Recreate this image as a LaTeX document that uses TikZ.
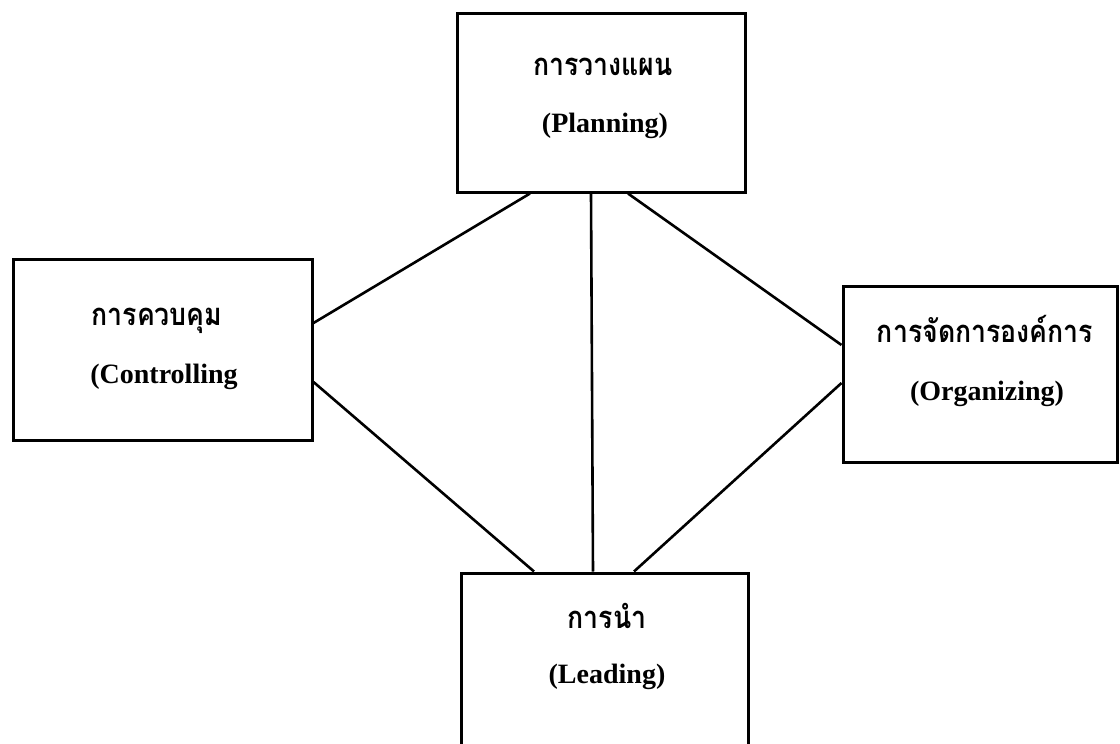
\documentclass[tikz,border=0pt]{standalone}
\usepackage{fontspec}
\setmainfont{Liberation Serif}
\newfontfamily\thaifont[Script=Thai,FakeStretch=0.86]{Loma}
\begin{document}
\begin{tikzpicture}[x=1pt,y=-1pt,
  box/.style={draw=black,line width=3pt,rectangle,inner sep=0pt},
  link/.style={draw=black,line width=2.6pt},
  thai/.style={anchor=base,inner sep=0pt,font=\thaifont\bfseries\fontsize{31}{34}\selectfont},
  eng/.style={anchor=base,inner sep=0pt,font=\bfseries\fontsize{28}{32}\selectfont}]
\useasboundingbox[fill=white] (0,0) rectangle (1120,744);
% boxes
\node[box,minimum width=288pt,minimum height=179pt] (plan) at (601,102.5) {};
\node[box,minimum width=299pt,minimum height=181pt] (ctrl) at (162.5,349.5) {};
\node[box,minimum width=274pt,minimum height=176pt] (org) at (980,374) {};
\node[box,minimum width=287pt,minimum height=197pt] (lead) at (604.5,671.5) {};
% labels
\node[thai] (planT) at (603,75) {การวางแผน};
\node[eng] (planE) at (605,132) {(Planning)};
\node[thai] (ctrlT) at (157,325) {การควบคุม};
\node[eng] (ctrlE) at (164,383) {(Controlling};
\node[thai] (orgT) at (985,342) {การจัดการองค์การ};
\node[eng] (orgE) at (987,400) {(Organizing)};
\node[thai] (leadT) at (607,628) {การนำ};
\node[eng] (leadE) at (607,683) {(Leading)};
% connectors
\draw[link] (plan.south -| 530,0) -- (ctrl.east |- 0,323);
\draw[link] (plan.south -| 591,0) -- (lead.north -| 593,0);
\draw[link] (plan.south -| 628,0) -- (org.west |- 0,345);
\draw[link] (ctrl.east |- 0,382) -- (lead.north -| 534,0);
\draw[link] (org.west |- 0,383) -- (lead.north -| 634,0);
\end{tikzpicture}
\end{document}
